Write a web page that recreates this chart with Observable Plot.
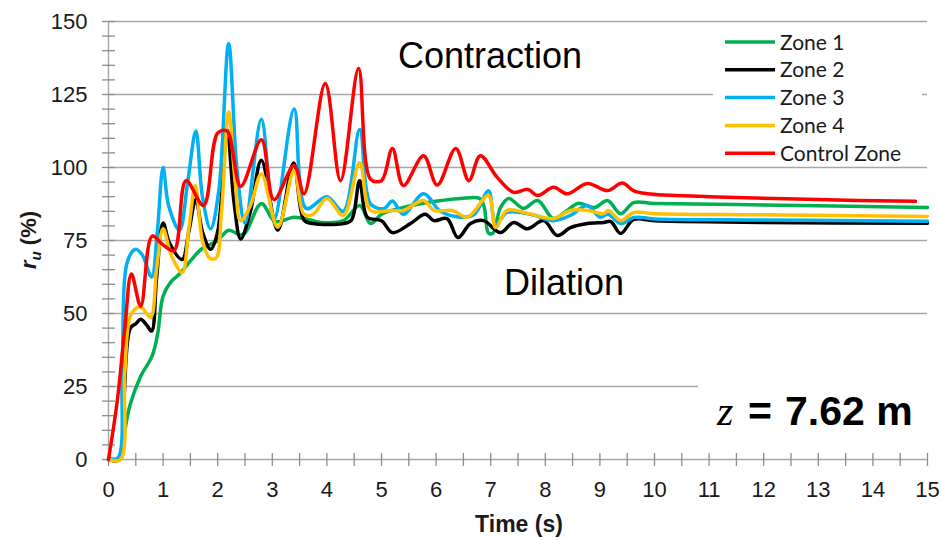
<!DOCTYPE html>
<html><head><meta charset="utf-8">
<script src="https://cdn.jsdelivr.net/npm/d3@7"></script>
<script src="https://cdn.jsdelivr.net/npm/@observablehq/plot@0.6"></script>
<style>
html,body{margin:0;padding:0;background:#fff;}
#wrap{position:relative;width:941px;height:540px;}
</style></head><body><div id="wrap"></div>
<script>
const seriesNames = ["Zone 1","Zone 2","Zone 3","Zone 4","Control Zone"];
const seriesColors = ["#00b050","#000000","#00b0f0","#ffc000","#ff0000"];

const zone1 = [[0,0],[0.22,0],[0.3,10],[0.4,19],[0.59,28.5],[0.8,35.5],[0.9,43],[1.0,56],[1.15,61],[1.3,63.5],[1.5,68],[1.7,72],[2.0,75],[2.2,78.5],[2.4,77],[2.5,77.5],[2.8,87.7],[3.05,81.5],[3.4,83],[3.7,82],[3.9,81.2],[4.3,81.8],[4.6,87],[4.8,80.8],[5.0,84],[5.4,86.3],[5.84,88],[6.1,88.7],[6.45,89.4],[6.8,89.4],[6.88,86.5],[6.96,77.5],[7.04,77.5],[7.18,86.3],[7.33,89.4],[7.6,86],[7.86,88.7],[8.15,82.5],[8.4,85.3],[8.6,87.7],[8.9,86.3],[9.14,88.7],[9.38,84.2],[9.62,88],[10,87.7],[12,87.2],[15,86.3]];
const zone2 = [[0,0],[0.2,0],[0.28,20],[0.4,45],[0.5,46.5],[0.59,48],[0.7,46],[0.79,44],[0.88,62],[1.0,81],[1.12,74],[1.35,68.5],[1.47,78],[1.6,89],[1.72,78],[1.87,72],[2.0,78],[2.17,113],[2.3,88],[2.42,75.5],[2.6,85],[2.8,102.5],[3.1,78.5],[3.39,101.5],[3.58,82],[3.75,80.8],[4.3,80.8],[4.45,82],[4.6,95.5],[4.74,83],[5.0,81.8],[5.2,77.7],[5.53,80.8],[5.8,84],[5.96,81.8],[6.2,82.5],[6.4,76],[6.63,80.8],[6.87,81.8],[7.18,77.7],[7.42,81.2],[7.67,79],[7.97,81.8],[8.22,76.7],[8.46,79.4],[8.77,80.8],[9.07,81.2],[9.2,81.5],[9.38,77.4],[9.62,82.2],[10,81.8],[12,81.2],[15,80.9]];
const zone3 = [[0,0.5],[0.17,0.5],[0.25,32],[0.35,68],[0.5,72],[0.62,70],[0.79,62.5],[0.89,77],[1.0,100],[1.1,87],[1.3,78.5],[1.45,95],[1.6,112.5],[1.72,90],[1.87,79],[2.02,92],[2.2,142.5],[2.35,100],[2.5,81],[2.8,116.5],[3.03,82],[3.4,120],[3.62,86],[4.0,90],[4.3,85],[4.6,113],[4.8,87.5],[5.05,86],[5.2,88.5],[5.4,84],[5.77,91],[6.08,85],[6.45,83],[6.7,84],[6.96,92],[7.09,80.8],[7.3,84.6],[7.55,84.6],[7.8,83.6],[8.15,81.8],[8.46,83.6],[8.77,87],[9.0,83],[9.15,84],[9.38,80.8],[9.62,82.9],[10,82.4],[12,82],[15,81.6]];
const zone4 = [[0,0],[0.22,0],[0.3,30],[0.42,50],[0.59,52.2],[0.77,48.7],[0.88,65],[1.0,79],[1.15,70],[1.35,64],[1.47,79],[1.59,93.8],[1.72,75],[1.85,69],[1.97,69],[2.07,85],[2.2,119],[2.32,95],[2.42,81.8],[2.6,87],[2.8,97.8],[3.1,79.5],[3.4,99],[3.58,84],[3.75,84],[4.0,89.4],[4.3,83.6],[4.6,101.7],[4.8,85.3],[5.17,85.3],[5.4,85.3],[5.77,88.7],[5.96,85.3],[6.3,85.3],[6.57,83],[6.96,90.4],[7.09,79.5],[7.3,85.3],[7.7,84.2],[8.15,82.5],[8.46,85.3],[8.77,85.3],[9.07,84.2],[9.16,85.3],[9.38,81.8],[9.62,84.6],[10,84.2],[12,83.8],[15,83.2]];
const controlZone = [[0,0],[0.16,20],[0.3,45],[0.42,63.5],[0.59,52.5],[0.8,76.5],[1.0,73.5],[1.2,71.5],[1.42,95.5],[1.74,87],[2.0,111.8],[2.17,112.5],[2.42,93.5],[2.8,109.5],[3.03,89],[3.4,100.7],[3.58,91],[3.97,128.8],[4.25,95.5],[4.58,133.9],[4.8,96],[5.0,95.5],[5.2,106.5],[5.4,93.8],[5.77,104],[6.02,94],[6.36,106.5],[6.6,95.5],[6.81,104],[7.12,96.6],[7.42,91.5],[7.68,92.5],[7.86,90.4],[8.15,93.2],[8.4,91],[8.77,94.5],[9.14,92.1],[9.41,94.7],[9.62,92],[9.87,91],[11,90],[13,89],[14.78,88.4]];

const xTickLabels = [0,1,2,3,4,5,6,7,8,9,10,11,12,13,14,15];
const yTickLabels = [0,25,50,75,100,125,150];
const xMinorTicks = [0,0.5,1,1.5,2,2.5,3,3.5,4,4.5,5,5.5,6,6.5,7,7.5,8,8.5,9,9.5,10,10.5,11,11.5,12,12.5,13,13.5,14,14.5,15];
const yMinorTicks = [0,5,10,15,20,25,30,35,40,45,50,55,60,65,70,75,80,85,90,95,100,105,110,115,120,125,130,135,140,145,150];

const allSeries = [zone1, zone2, zone3, zone4, controlZone];
const rows = allSeries.flatMap((s, i) => s.map(([t, v]) => ({t, v, name: seriesNames[i]})));

const gray = "#a6a6a6";
const tickGray = "#8c8c8c";
const chart = Plot.plot({
  width: 941, height: 540,
  marginLeft: 108, marginRight: 14, marginTop: 21, marginBottom: 81,
  style: {fontFamily: "'Liberation Sans', Arial, sans-serif", fontSize: "22px", color: "#1a1a1a", background: "#fff"},
  x: {domain: [0, 15]},
  y: {domain: [0, 150]},
  color: {domain: seriesNames, range: seriesColors},
  marks: [
    Plot.gridY({ticks: yTickLabels.filter(d => d > 0), stroke: gray, strokeOpacity: 1, strokeWidth: 1.3}),
    Plot.ruleY([0], {stroke: gray, strokeWidth: 1.4}),
    Plot.ruleX([0], {stroke: gray, strokeWidth: 1.4}),
    Plot.axisY({ticks: yMinorTicks, tickSize: 13, dx: 7, tickFormat: () => "", stroke: tickGray, strokeWidth: 1.3, label: null}),
    Plot.axisX({ticks: xMinorTicks, tickSize: 13, dy: -6, tickFormat: () => "", stroke: tickGray, strokeWidth: 1.3, label: null}),
    Plot.axisY({ticks: yTickLabels, tickSize: 0, tickPadding: 21, label: null}),
    Plot.axisX({ticks: xTickLabels, tickSize: 0, tickPadding: 22, label: null}),
    Plot.line(rows, {x: "t", y: "v", z: "name", stroke: "name", strokeWidth: 3.5, curve: "catmull-rom"})
  ]
});
document.getElementById("wrap").appendChild(chart);

const svg = d3.select(chart);
const sans = "'Liberation Sans', Arial, sans-serif";

// annotations
svg.append("text").attr("text-anchor", "start").attr("x", 398).attr("y", 68).attr("font-family", sans).attr("font-size", 36).attr("fill", "#000").text("Contraction");
svg.append("text").attr("text-anchor", "start").attr("x", 504).attr("y", 295).attr("font-family", sans).attr("font-size", 36).attr("fill", "#000").text("Dilation");

// z label
svg.append("rect").attr("x", 698).attr("y", 372).attr("width", 238).attr("height", 70).attr("fill", "#fff");
const zt = svg.append("text").attr("text-anchor", "start").attr("y", 425).attr("fill", "#000");
zt.append("tspan").attr("x", 717).attr("font-family", "'Liberation Serif', 'Times New Roman', serif").attr("font-style", "italic").attr("font-size", 42).text("z");
zt.append("tspan").attr("x", 748).attr("font-family", sans).attr("font-weight", "bold").attr("font-size", 41).text("=");
zt.append("tspan").attr("x", 785).attr("font-family", sans).attr("font-weight", "bold").attr("font-size", 41).text("7.62 m");

// legend
svg.append("rect").attr("x", 713).attr("y", 28).attr("width", 209).attr("height", 136).attr("fill", "#fff");
seriesNames.forEach((name, i) => {
  const cy = 42 + i * 27.8;
  svg.append("line").attr("x1", 725).attr("x2", 775).attr("y1", cy).attr("y2", cy).attr("stroke", seriesColors[i]).attr("stroke-width", 3.5);
  svg.append("text").attr("text-anchor", "start").attr("x", 780).attr("y", cy + 7.5).attr("font-family", "Lato, 'Open Sans', sans-serif").attr("font-size", 21).attr("fill", "#1a1a1a").text(name);
});

// axis titles
svg.append("text").attr("x", 519).attr("y", 532).attr("text-anchor", "middle").attr("font-family", sans).attr("font-weight", "bold").attr("font-size", 23).attr("fill", "#1a1a1a").text("Time (s)");
const yt = svg.append("text").attr("transform", "translate(36,240) rotate(-90)").attr("text-anchor", "middle").attr("font-family", sans).attr("font-weight", "bold").attr("font-size", 22).attr("fill", "#1a1a1a");
yt.append("tspan").attr("font-style", "italic").text("r");
yt.append("tspan").attr("font-style", "italic").attr("font-size", 15).attr("dy", 5).text("u");
yt.append("tspan").attr("dy", -5).text(" (%)");
</script></body></html>
